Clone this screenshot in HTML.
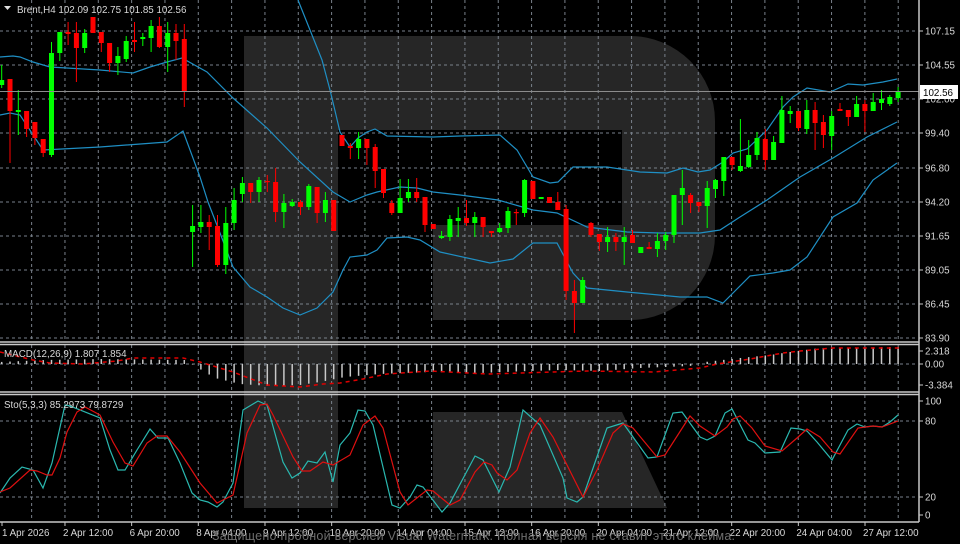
<!DOCTYPE html>
<html><head><meta charset="utf-8">
<style>
html,body{margin:0;padding:0;background:#000;}
svg{display:block;}
text{font-family:"Liberation Sans",sans-serif;font-size:9.8px;fill:#d8d8d8;}
</style></head>
<body>
<svg id="c" width="960" height="544" viewBox="0 0 960 544" xmlns="http://www.w3.org/2000/svg">
<rect x="0" y="0" width="960" height="544" fill="#000"/>
<g fill="#262626">
<rect x="244" y="36" width="94" height="472"/>
<path d="M338,36 H630 A85,85 0 0 1 715,121 V235 A85,85 0 0 1 630,320 H433 V225 H622 V130 H338 Z"/>
<path d="M433,412 H622 L667,508 H433 Z"/>
</g>
<g id="grid" stroke="#79818b" stroke-width="1" stroke-dasharray="3,3" fill="none"></g>
<g id="bands" stroke="#1f8fc4" stroke-width="1.2" fill="none"></g>
<g id="candles"></g>
<line x1="0" y1="91.5" x2="919" y2="91.5" stroke="#8c8c8c" stroke-width="1"/>
<g id="macd"></g>
<g id="sto" fill="none" stroke-width="1.2"></g>
<g stroke="#c8c8c8" stroke-width="1.5" fill="none">
<line x1="0" y1="342" x2="919" y2="342"/>
<line x1="0" y1="344.5" x2="919" y2="344.5"/>
<line x1="0" y1="392" x2="919" y2="392"/>
<line x1="0" y1="394.5" x2="919" y2="394.5"/>
<line x1="0" y1="522" x2="919" y2="522"/>
<line x1="919" y1="0" x2="919" y2="522"/>
</g>
<g id="labels"></g>
<path d="M4,6 L11,6 L7.5,10 Z" fill="#e0e0e0"/>
<text x="17" y="13">Brent,H4  102.09 102.75 101.85 102.56</text>
<text x="4" y="357">MACD(12,26,9) 1.807 1.854</text>
<text x="4" y="408">Sto(5,3,3) 85.2973 79.8729</text>
<rect x="920" y="85" width="38" height="14" fill="#fff"/>
<text x="923" y="96" style="fill:#000">102.56</text>
<text x="212" y="540" textLength="523" style="fill:#6e6e6e;font-size:12.5px">Защищено пробной версией Visual Watermark. Полная версия не ставит этого клейма.</text>
</svg>
<script>
(function(){
var NS="http://www.w3.org/2000/svg";
function el(p,t,a){var e=document.createElementNS(NS,t);for(var k in a)e.setAttribute(k,a[k]);p.appendChild(e);return e;}
var g=document.getElementById("grid");
for(var k=0;k<=28;k++){var x=-1.7+33.33*k;if(x<0||x>918)continue;
 el(g,"line",{x1:x,y1:0,x2:x,y2:341});el(g,"line",{x1:x,y1:345,x2:x,y2:391});el(g,"line",{x1:x,y1:395,x2:x,y2:521});}
[31,65,99,133,168,202,236,270,304,338].forEach(function(y){el(g,"line",{x1:0,y1:y,x2:918,y2:y});});
[364,421,497].forEach(function(y){el(g,"line",{x1:0,y1:y,x2:918,y2:y});});
var L=document.getElementById("labels");
var pl=[["107.15",31],["104.55",65],["102.00",99],["99.40",133],["96.80",168],["94.20",202],["91.65",236],["89.05",270],["86.45",304],["83.90",338],["2.318",351],["0.00",364],["-3.384",385],["100",401],["80",421],["20",497],["0",515]];
pl.forEach(function(p){el(L,"line",{x1:919,y1:p[1],x2:923,y2:p[1],stroke:"#c8c8c8"});var t=el(L,"text",{x:925,y:p[1]+3.5});t.textContent=p[0];});
var tl=["1 Apr 2026","2 Apr 12:00","6 Apr 20:00","8 Apr 04:00","9 Apr 12:00","10 Apr 20:00","14 Apr 04:00","15 Apr 12:00","16 Apr 20:00","20 Apr 04:00","21 Apr 12:00","22 Apr 20:00","24 Apr 04:00","27 Apr 12:00"];
tl.forEach(function(s,k){var tx=k==0?2:-1.7+66.67*k;el(L,"line",{x1:tx,y1:522,x2:tx,y2:526,stroke:"#c8c8c8"});var t=el(L,"text",{x:(k==0?2:tx-2),y:536});t.textContent=s;});
var C=[["g",80,85,65,88],["r",79,111,79,163],["g",110,112,90,135],["r",111,129,111,137],["r",122,138,122,145],["r",139,153,139,157],["g",53,155,42,157],["g",32,53,32,61],["r",32,34,22,45],["r",33,48,22,82],["g",33,48,29,53],["r",17,33,17,33],["r",32,43,32,52],["r",43,63,43,72],["g",56,63,47,75],["g",41,59,36,62],["r",40,42,22,52],["g",37,39,33,46],["g",26,38,20,52],["r",26,47,17,48],["g",33,47,22,72],["r",33,41,24,60],["r",39,92,24,107],
["g",226,232,205,267],["g",222,227,205,233],["r",222,227,215,250],["r",226,265,215,267],["g",223,265,207,274],["g",200,223,188,230],["g",183,194,177,202],["r",183,192,183,203],["g",180,192,177,202],["r",181,182,175,192],["r",182,212,168,222],["g",203,212,194,228],["g",202,206,199,207],["r",202,207,200,215],["g",186,207,184,210],["r",187,213,187,223],["g",200,213,192,222],["r",200,231,200,231],
["r",135,146,135,146],["r",146,148,143,159],["g",139,148,132,159],["r",139,148,139,165],["r",147,171,144,188],["r",169,193,169,198],["r",203,213,200,215],["g",198,213,179,213],["g",192,198,179,202],["r",192,198,178,202],["r",197,225,197,232],["r",224,229,224,229],["g",236,238,231,239],["g",219,237,215,241],["g",218,221,207,237],
["r",218,223,200,226],["g",217,223,212,237],["r",217,227,217,237],["r",231,233,231,237],["g",228,232,223,233],["g",211,228,207,233],["r",212,213,209,225],["g",180,213,179,217],["r",181,199,181,199],["g",197,199,197,199],["r",197,203,197,203],["r",202,210,192,210],["r",209,291,205,300],["r",291,303,280,333],["g",280,303,277,303],
["r",223,235,222,237],["r",234,242,234,251],["g",237,242,227,252],["r",237,242,233,251],["g",237,242,227,265],["r",235,243,230,243],["g",247,253,247,253],["r",247,249,242,249],["g",241,249,233,257],["g",235,241,232,250],["g",195,235,195,243],["g",188,195,170,225],["r",195,203,193,213],["r",202,206,202,212],["g",188,206,181,228],["g",180,189,179,198],["g",157,181,157,196],["r",157,165,157,170],["g",166,171,119,172],["g",155,167,140,168],["g",138,155,132,160],["r",139,160,129,170],["g",142,160,136,160],["g",110,143,96,143],["g",111,114,106,123],["r",111,128,111,131],["g",110,129,100,134],["r",110,123,102,150],["r",122,135,115,148],["g",116,136,111,150],["r",109,111,103,111],["r",110,117,110,126],["g",104,117,96,117],["r",104,111,100,132],["g",102,111,93,111],["g",99,103,90,110],["g",97,104,95,106],["g",92,98,87,102]];
var cg=document.getElementById("candles");
function X(i){return 1.7+8.3*i;}
C.forEach(function(c,i){var x=X(i),col=c[0]=="g"?"#00ff00":"#ff0000";
 el(cg,"line",{x1:x,y1:c[3],x2:x,y2:c[4],stroke:col,"stroke-width":1});
 var h=Math.max(1.2,c[2]-c[1]);el(cg,"rect",{x:x-2.5,y:c[1],width:5,height:h,fill:col});});
var B=document.getElementById("bands");
function pl2(pts,par,attrs){var a={points:pts.map(function(p){return p.join(",");}).join(" ")};for(var k in attrs)a[k]=attrs[k];return el(par,"polyline",a);}
pl2([[0,57],[13,56],[20,57],[33,62],[50,67],[100,70],[133,73],[150,67],[167,62],[182,58],[207,72],[233,98],[267,128],[300,162],[333,192],[350,202],[367,195],[377,192],[400,187],[417,188],[433,192],[460,195],[498,200],[533,210],[557,213],[587,227],[627,232],[660,233],[700,233],[720,230],[740,217],[767,200],[800,177],[833,158],[867,137],[897,122]],B);
pl2([[0,115],[10,113],[20,115],[43,150],[100,147],[167,142],[183,131],[200,177],[208,202],[220,233],[233,267],[250,287],[267,297],[283,308],[300,315],[317,308],[333,292],[343,270],[350,257],[367,255],[377,250],[387,238],[407,237],[420,240],[440,252],[490,263],[513,259],[533,243],[557,243],[573,273],[587,288],[627,292],[680,297],[707,297],[723,303],[733,293],[750,276],[773,273],[790,270],[807,257],[833,217],[857,203],[873,180],[897,163]],B);
pl2([[298,0],[310,30],[322,60],[330,90],[336,115],[340,132],[350,147],[358,138],[367,132],[375,129],[387,136],[433,137],[460,136],[500,135],[517,150],[533,177],[550,183],[558,182],[573,167],[607,167],[640,172],[667,173],[683,168],[698,172],[710,170],[723,162],[733,153],[747,149],[767,130],[783,107],[793,97],[807,88],[830,92],[848,84],[863,85],[883,82],[897,79]],B);
var M=document.getElementById("macd");
function interp(pts,x){for(var k=0;k<pts.length-1;k++){if(x<=pts[k+1][0]){var a=pts[k],b=pts[k+1];return a[1]+(b[1]-a[1])*(x-a[0])/(b[0]-a[0]);}}return pts[pts.length-1][1];}
var H=[[0,362],[45,360],[100,359],[185,360],[195,366],[215,378],[240,384],[270,386],[300,385],[320,382],[345,377],[380,374],[430,372],[480,373],[530,371],[560,370],[600,371],[640,368],[690,366],[705,362],[740,358],[770,355],[790,352],[820,348],[898,347]];
for(var i=0;i<109;i++){var x=X(i),y=interp(H,x);el(M,"line",{x1:x,y1:364,x2:x,y2:y,stroke:"#c8c8c8","stroke-width":1.5});}
pl2([[0,352],[33,360],[50,363],[83,364],[117,361],[133,358],[183,358],[200,362],[233,372],[267,385],[300,387],[323,384],[340,383],[363,379],[387,374],[430,371],[487,374],[520,373],[587,371],[653,372],[700,368],[717,364],[750,359],[783,353],[800,351],[833,348],[900,348]],M,{fill:"none",stroke:"#e00000","stroke-width":1.5,"stroke-dasharray":"4,4"});
var S=document.getElementById("sto");
pl2([[0,493],[10,478],[22,467],[33,470],[43,488],[52,463],[65,405],[70,406],[100,418],[110,450],[118,470],[125,470],[137,450],[150,429],[158,438],[168,438],[180,463],[192,493],[200,500],[208,502],[217,507],[223,502],[233,483],[243,410],[258,401],[267,405],[283,462],[292,478],[300,473],[308,461],[317,463],[325,452],[333,482],[340,445],[350,433],[358,410],[365,411],[373,425],[392,505],[400,508],[410,497],[417,485],[423,487],[442,512],[450,503],[475,456],[483,460],[499,492],[510,467],[523,410],[540,425],[563,478],[567,498],[577,502],[583,497],[607,428],[623,423],[648,458],[657,457],[673,413],[682,412],[700,437],[707,440],[715,436],[725,413],[732,409],[748,440],[755,443],[765,453],[780,452],[791,428],[800,429],[807,431],[817,442],[832,460],[848,430],[857,424],[865,427],[873,426],[882,427],[890,422],[898,415]],S,{stroke:"#2ab8b0"});
pl2([[0,492],[10,488],[30,470],[37,471],[47,475],[52,475],[60,458],[67,432],[77,412],[85,407],[100,415],[113,442],[125,463],[133,466],[147,443],[157,436],[167,436],[180,452],[200,483],[217,503],[233,495],[247,433],[260,405],[267,404],[273,415],[293,457],[302,471],[310,471],[323,462],[333,465],[350,455],[363,425],[375,416],[383,428],[400,492],[408,505],[427,490],[433,491],[450,505],[460,500],[475,472],[484,462],[492,465],[497,473],[507,480],[517,470],[530,433],[540,418],[553,437],[583,497],[597,470],[613,433],[623,424],[633,428],[657,457],[665,455],[690,416],[700,426],[715,436],[727,427],[733,419],[740,416],[752,428],[765,446],[782,451],[797,438],[807,429],[820,437],[833,452],[840,454],[858,428],[873,426],[882,427],[898,421]],S,{stroke:"#e01010"});
})();
</script>
</body></html>
